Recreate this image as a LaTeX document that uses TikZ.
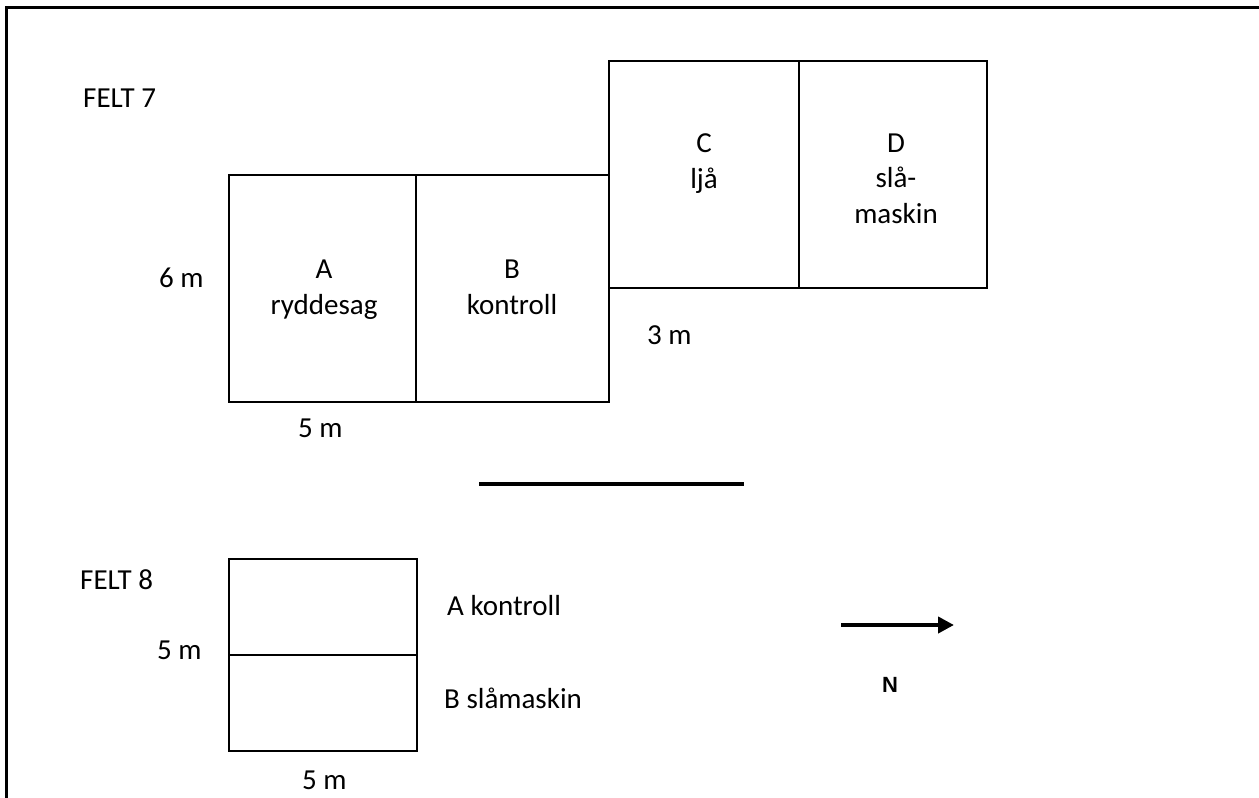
\documentclass[tikz,border=0pt]{standalone}
\usepackage{fontspec}
\setmainfont{Carlito}
\newfontfamily\arrowfont{Liberation Sans}
\usetikzlibrary{arrows.meta}

\begin{document}
\begin{tikzpicture}[x=1pt, y=-1pt,
  plotbox/.style={draw, line width=2pt, inner sep=0pt, minimum width=#1},
  lbl/.style={inner sep=0pt, font=\fontsize{29}{35.4}\selectfont},
  plotlbl/.style={lbl, align=center, anchor=base},
  rule/.style={line width=3.5pt}]
\useasboundingbox (0,0) rectangle (1259,798);

% page frame (top and left edges)
\coordinate (frBL) at (6,799);
\coordinate (frTL) at (6,7);
\coordinate (frTR) at (1260,7);
\draw[line width=3pt] (frBL) -- (frTL) -- (frTR);

% ---- Felt 7 ----
\node[lbl, anchor=base west] (felt7) at (83,107) {FELT 7};
\node[plotbox=187.3pt, minimum height=226.7pt] (pA) at (322.35,288.35) {};
\node[plotbox=192.5pt, minimum height=226.7pt] (pB) at (512.25,288.35) {};
\node[plotbox=190.5pt, minimum height=226.7pt] (pC) at (703.75,174.35) {};
\node[plotbox=188.3pt, minimum height=226.7pt] (pD) at (893.15,174.35) {};

% multi-line labels: base anchor sits on the last line
\node[plotlbl] (tA) at (324,314) {A\\ryddesag};
\node[plotlbl] (tB) at (512,314) {B\\kontroll};
\node[plotlbl] (tC) at (704,188) {C\\ljå};
\node[plotlbl] (tD) at (896,223) {D\\slå-\\maskin};

\node[lbl, anchor=base west] (m6) at (159,287) {6 m};
\node[lbl, anchor=base west] (m3) at (647,344) {3 m};
\node[lbl, anchor=base west] (m5a) at (298,437) {5 m};

% separating rule
\coordinate (sepL) at (479,484);
\coordinate (sepR) at (744,484);
\draw[rule] (sepL) -- (sepR);

% ---- Felt 8 ----
\node[lbl, anchor=base west] (felt8) at (80,589) {FELT 8};
\node[plotbox=188pt, minimum height=95.7pt] (qA) at (322.7,607.15) {};
\node[plotbox=188pt, minimum height=96.3pt] (qB) at (322.7,703.15) {};
\node[lbl, anchor=base west] (tqA) at (447,615) {A kontroll};
\node[lbl, anchor=base west] (tqB) at (444,708) {B slåmaskin};
\node[lbl, anchor=base west] (m5b) at (157,659) {5 m};
\node[lbl, anchor=base west] (m5c) at (302,789) {5 m};

% north arrow
\coordinate (nTail) at (841,625);
\coordinate (nHead) at (954,625);
\draw[line width=4pt, -{Triangle[length=16pt,width=16pt]}] (nTail) -- (nHead);
\node[inner sep=0pt, anchor=base, font=\arrowfont\bfseries\fontsize{22}{26}\selectfont] (north) at (890,692) {N};
\end{tikzpicture}
\end{document}
